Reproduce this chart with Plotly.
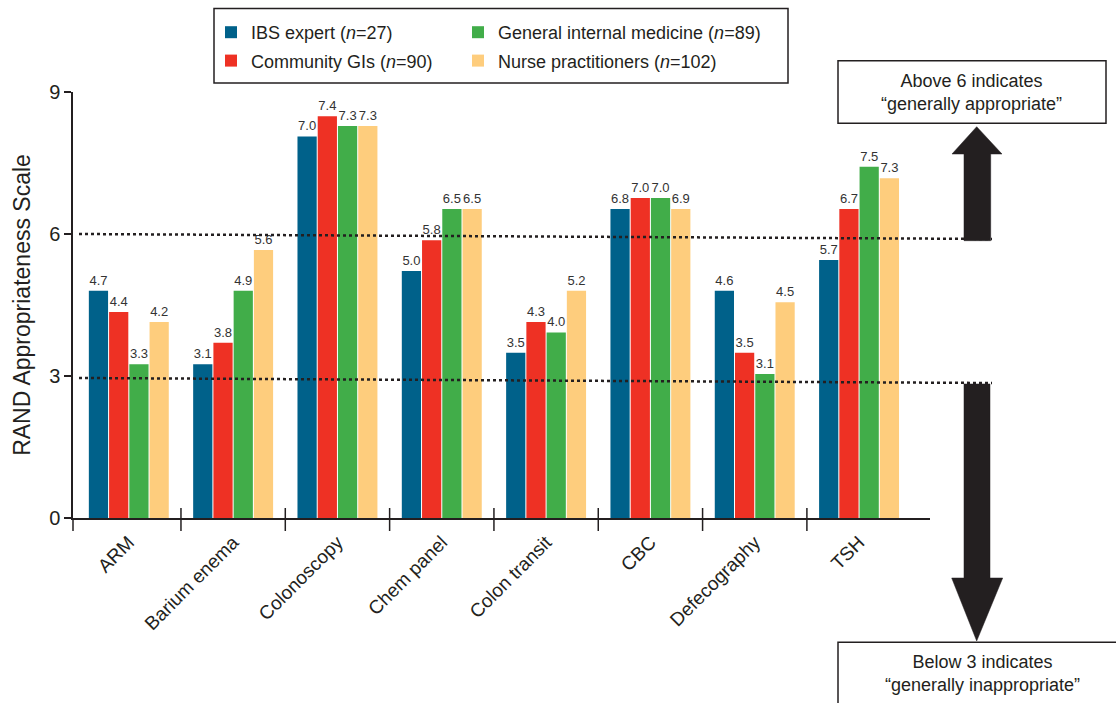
import plotly.graph_objects as go

# ---------------- data ----------------
categories = ["ARM", "Barium enema", "Colonoscopy", "Chem panel",
              "Colon transit", "CBC", "Defecography", "TSH"]

series_names = ["IBS expert (<i>n</i>=27)", "Community GIs (<i>n</i>=90)",
                "General internal medicine (<i>n</i>=89)", "Nurse practitioners (<i>n</i>=102)"]

# bar heights as drawn in the picture
ibs_expert = [4.80, 3.25, 8.06, 5.22, 3.49, 6.53, 4.80, 5.45]
community_gi = [4.35, 3.70, 8.49, 5.87, 4.14, 6.76, 3.49, 6.53]
general_im = [3.25, 4.80, 8.28, 6.53, 3.92, 6.76, 3.04, 7.42]
nurse_pract = [4.14, 5.66, 8.28, 6.53, 4.80, 6.53, 4.56, 7.18]

# value labels printed above the bars
ibs_expert_lbl = [4.7, 3.1, 7.0, 5.0, 3.5, 6.8, 4.6, 5.7]
community_gi_lbl = [4.4, 3.8, 7.4, 5.8, 4.3, 7.0, 3.5, 6.7]
general_im_lbl = [3.3, 4.9, 7.3, 6.5, 4.0, 7.0, 3.1, 7.5]
nurse_pract_lbl = [4.2, 5.6, 7.3, 6.5, 5.2, 6.9, 4.5, 7.3]

y_ticks = [0, 3, 6, 9]
upper_threshold = 6
lower_threshold = 3

colors = ["#00618A", "#EE3124", "#41AD49", "#FECD7D"]
INK = "#231F20"
FONT = "Liberation Sans, Arial, sans-serif"

# ---------------- geometry helpers (pixel -> paper) ----------------
W, H = 1116, 703
L, R, T, B = 73, 186, 92, 185
PW, PH = W - L - R, H - T - B


def xp(px):
    return (px - L) / PW


def yp(py):
    return (H - B - py) / PH


fig = go.Figure()

values = [ibs_expert, community_gi, general_im, nurse_pract]
labels = [ibs_expert_lbl, community_gi_lbl, general_im_lbl, nurse_pract_lbl]
legend_ids = ["legend", "legend", "legend2", "legend2"]
for i in range(4):
    fig.add_trace(go.Bar(
        x=categories, y=values[i], name=series_names[i],
        marker=dict(color=colors[i], line=dict(width=0)),
        text=[f"{v:.1f}" for v in labels[i]],
        textposition="outside", constraintext="none", cliponaxis=False,
        textfont=dict(family=FONT, size=13, color="#333333"),
        legend=legend_ids[i], legendgroup=f"g{i}",
        hoverinfo="x+y",
    ))

shapes = []

# threshold dotted lines (slightly tilted as in the figure)
shapes.append(dict(type="line", xref="paper", yref="y",
                   x0=xp(79), x1=xp(992), y0=upper_threshold, y1=upper_threshold - 0.105,
                   line=dict(color=INK, width=2.5, dash="dot")))
shapes.append(dict(type="line", xref="paper", yref="y",
                   x0=xp(79), x1=xp(992), y0=lower_threshold - 0.042, y1=lower_threshold - 0.148,
                   line=dict(color=INK, width=2.5, dash="dot")))

# category separator ticks crossing the x axis
for k in range(len(categories) - 1):
    shapes.append(dict(type="line", xref="x", yref="paper",
                       x0=k + 0.5, x1=k + 0.5, y0=yp(531), y1=yp(508),
                       line=dict(color=INK, width=1.5)))
# y-axis extension below x-axis
shapes.append(dict(type="line", xref="paper", yref="paper",
                   x0=0, x1=0, y0=yp(531), y1=0, line=dict(color=INK, width=1.5)))

# legend frame
shapes.append(dict(type="rect", xref="paper", yref="paper",
                   x0=xp(214), x1=xp(788), y0=yp(83), y1=yp(8.5),
                   line=dict(color=INK, width=1.5), fillcolor="rgba(0,0,0,0)"))

# "Above 6" box
shapes.append(dict(type="rect", xref="paper", yref="paper",
                   x0=xp(838), x1=xp(1106), y0=yp(123.3), y1=yp(60.7),
                   line=dict(color=INK, width=1.5), fillcolor="white"))
# "Below 3" box (runs off the page)
shapes.append(dict(type="rect", xref="paper", yref="paper",
                   x0=xp(838), x1=xp(1130), y0=yp(720), y1=yp(642.3),
                   line=dict(color=INK, width=1.5), fillcolor="white"))


def poly(pts):
    return "M " + " L ".join(f"{xp(a):.5f},{yp(b):.5f}" for a, b in pts) + " Z"


up_arrow = [(964, 240.7), (964, 154), (952, 154), (976.7, 126.7), (1002, 154),
            (990.7, 154), (990.7, 240.7)]
down_arrow = [(964, 384), (964, 578), (951.7, 578), (976.7, 641), (1002.7, 578),
              (990, 578), (990, 384)]
for pts in (up_arrow, down_arrow):
    shapes.append(dict(type="path", xref="paper", yref="paper", path=poly(pts),
                       fillcolor=INK, line=dict(color=INK, width=0.5)))

annotations = [
    dict(xref="paper", yref="paper", x=xp(972), y=yp(92), xanchor="center", yanchor="middle",
         text="Above 6 indicates<br>\u201cgenerally appropriate\u201d", showarrow=False,
         font=dict(family=FONT, size=18, color=INK), align="center"),
    dict(xref="paper", yref="paper", x=xp(982), y=yp(673.5), xanchor="center", yanchor="middle",
         text="Below 3 indicates<br>\u201cgenerally inappropriate\u201d", showarrow=False,
         font=dict(family=FONT, size=18, color=INK), align="center"),
]

fig.update_layout(
    width=W, height=H,
    margin=dict(l=L, r=R, t=T, b=B),
    paper_bgcolor="white", plot_bgcolor="white",
    barmode="group", bargap=0.224, bargroupgap=0.05,
    font=dict(family=FONT, color=INK),
    shapes=shapes, annotations=annotations,
    legend=dict(x=xp(211), y=yp(14), xanchor="left", yanchor="top",
                orientation="v", bgcolor="rgba(0,0,0,0)", borderwidth=0,
                font=dict(family=FONT, size=18, color=INK), tracegroupgap=2),
    legend2=dict(x=xp(458), y=yp(14), xanchor="left", yanchor="top",
                 orientation="v", bgcolor="rgba(0,0,0,0)", borderwidth=0,
                 font=dict(family=FONT, size=18, color=INK), tracegroupgap=2),
    xaxis=dict(
        range=[-0.535, 7.68], showline=True, linecolor=INK, linewidth=1.5,
        ticks="outside", ticklen=4, tickcolor="rgba(0,0,0,0)", tickangle=-45,
        showgrid=False, zeroline=False,
        tickfont=dict(family=FONT, size=19, color=INK),
    ),
    yaxis=dict(
        range=[0, 9], tickvals=y_ticks, showline=True, linecolor=INK, linewidth=1.5,
        ticks="outside", ticklen=7, tickcolor=INK, tickwidth=1.5,
        showgrid=False, zeroline=False,
        tickfont=dict(family=FONT, size=20, color=INK),
        title=dict(text="RAND Appropriateness Scale", standoff=12,
                   font=dict(family=FONT, size=23, color=INK)),
    ),
)

fig.write_html("out.html", config={"displayModeBar": False},
               post_script="document.body.style.margin='0px';document.body.style.overflow='hidden';")
